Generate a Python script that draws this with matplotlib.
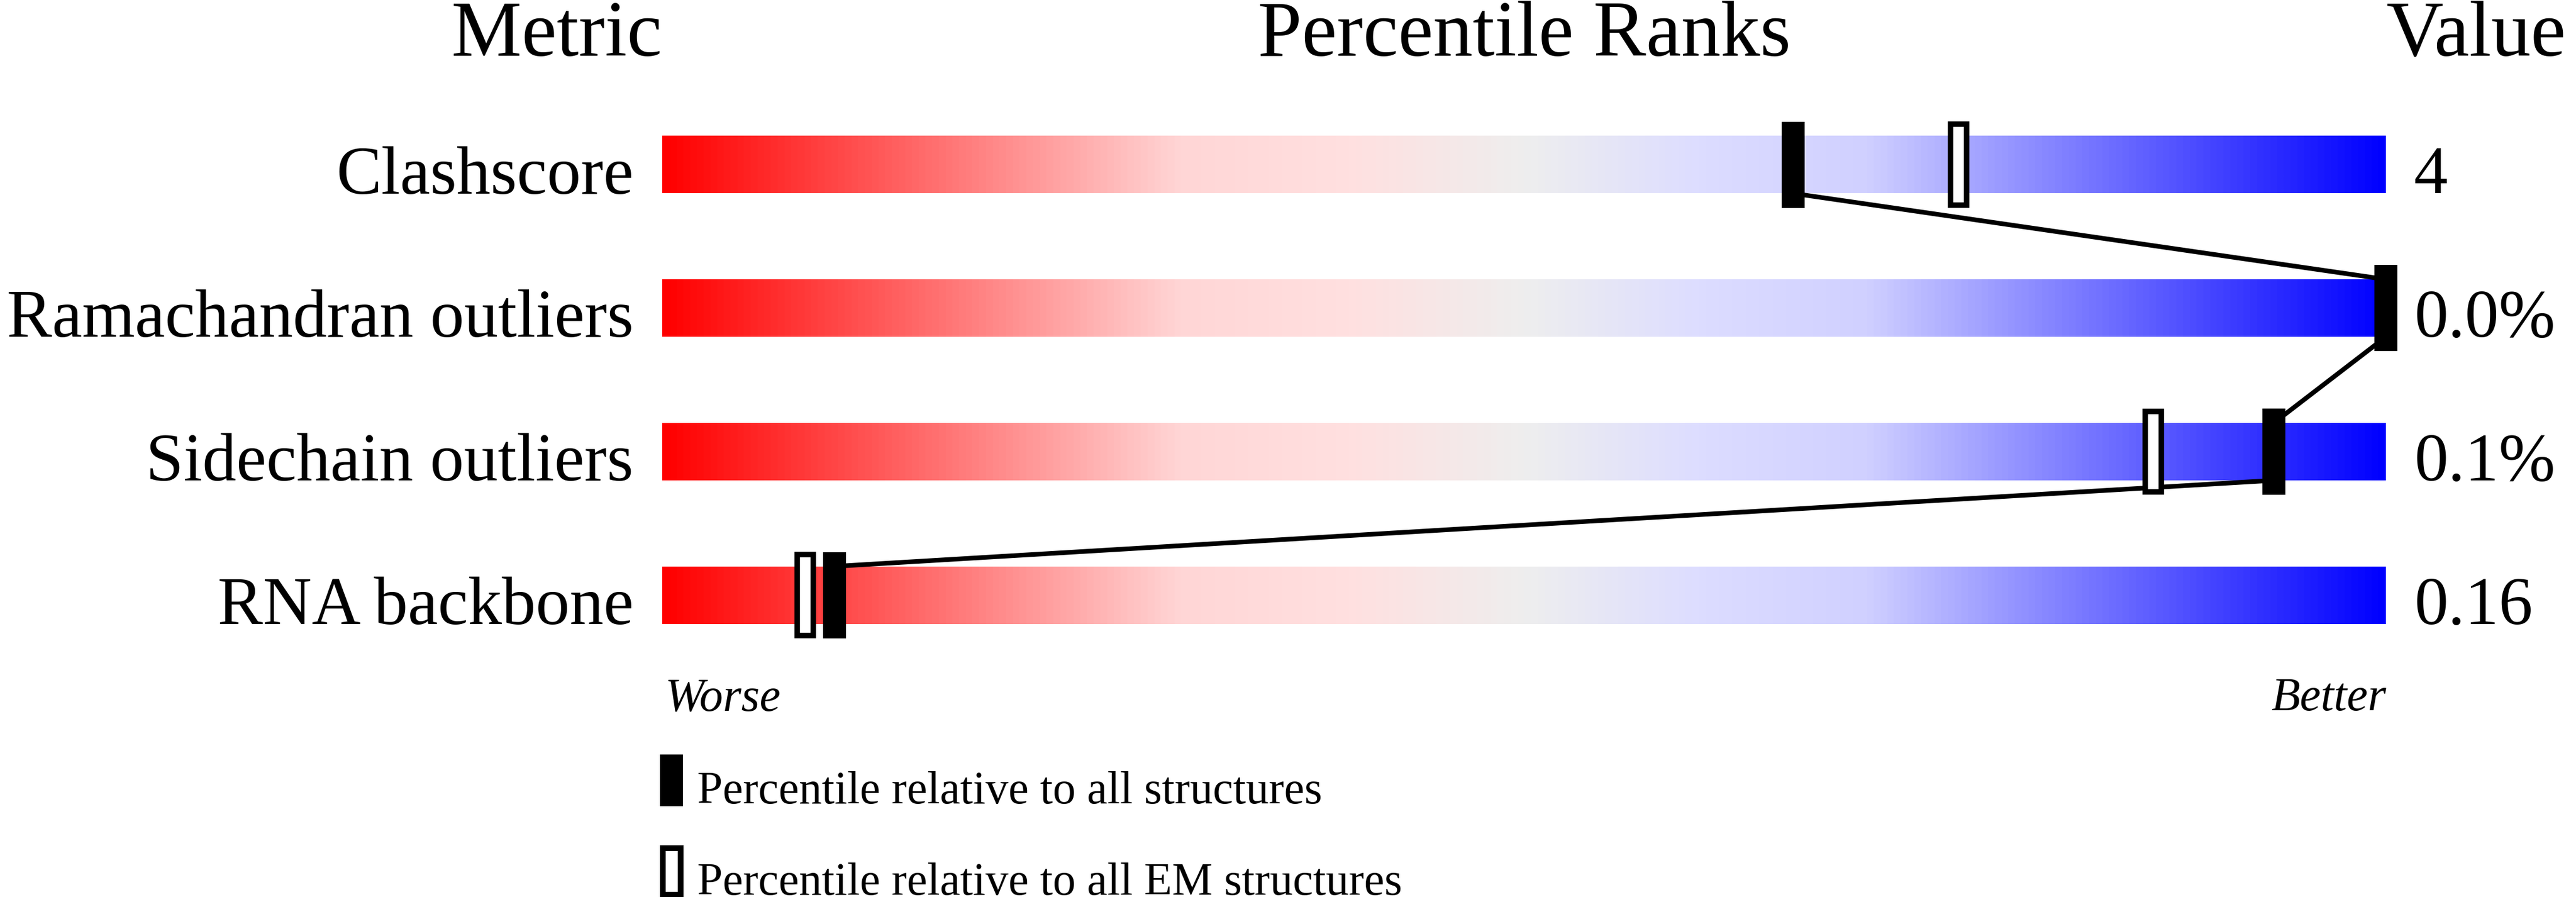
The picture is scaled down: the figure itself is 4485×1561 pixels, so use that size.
#!/usr/bin/env python3
"""Percentile slider chart (validation summary style)."""

import matplotlib

matplotlib.use("Agg")
import matplotlib.pyplot as plt
import numpy as np
from matplotlib.colors import LinearSegmentedColormap
from matplotlib.patches import Rectangle

# data
metrics = ["Clashscore", "Ramachandran outliers", "Sidechain outliers", "RNA backbone"]
values = ["4", "0.0%", "0.1%", "0.16"]
pct_all = [65.6, 100.0, 93.5, 10.0]
pct_em = [75.2, np.nan, 86.5, 8.3]

# layout in output pixels
W, H = 4485, 1561
BAR_LEFT, BAR_RIGHT = 1153, 4154
ROW_TOP, ROW_STEP = 286.5, 249.7
PX_PER_PCT = (BAR_RIGHT - BAR_LEFT) / 100.0
FONT = "Liberation Serif"


def xd(px: float) -> float:
    return (px - BAR_LEFT) / PX_PER_PCT


def yd(px: float) -> float:
    return (px - ROW_TOP) / ROW_STEP


fig = plt.figure(figsize=(W / 100, H / 100), dpi=100)
ax = fig.add_axes([0, 0, 1, 1])

cmap = LinearSegmentedColormap.from_list(
    "slider",
    [
        (0.0, "#ff0000"),
        (0.3, "#ffd6d6"),
        (0.4, "#ffe0e0"),
        (0.5, "#eeeeee"),
        (0.6, "#ddddff"),
        (0.7, "#d0d0ff"),
        (1.0, "#0000ff"),
    ],
)
ramp = np.linspace(0, 1, 800).reshape(1, -1)

bar_h = 100 / ROW_STEP
mark_h = 150 / ROW_STEP
rows = np.arange(len(metrics))

for i in rows:
    ax.imshow(
        ramp,
        cmap=cmap,
        aspect="auto",
        extent=(0, 100, i + bar_h / 2, i - bar_h / 2),
        interpolation="bilinear",
        zorder=1,
    )

# line joining the all-structure markers
for i in rows[:-1]:
    ax.plot(
        [pct_all[i], pct_all[i + 1]],
        [i + bar_h / 2, i + 1 - bar_h / 2],
        color="black",
        linewidth=5.8,
        solid_capstyle="butt",
        zorder=2,
    )

em = np.array(pct_em)
ok = ~np.isnan(em)
edge_px = 9.5
ax.bar(
    em[ok],
    (150 - edge_px) / ROW_STEP,
    width=(38 - edge_px) / PX_PER_PCT,
    bottom=rows[ok] - (150 - edge_px) / ROW_STEP / 2,
    facecolor="white",
    edgecolor="black",
    linewidth=edge_px * 0.72,
    zorder=3,
)
ax.bar(
    pct_all,
    mark_h,
    width=40 / PX_PER_PCT,
    bottom=rows - mark_h / 2,
    color="black",
    linewidth=0,
    zorder=4,
)

# headers
head_y = yd(97)
ax.text(0, head_y, "Metric", ha="right", va="baseline", fontsize=99, family=FONT)
ax.text(50, head_y, "Percentile Ranks", ha="center", va="baseline", fontsize=99, family=FONT)
ax.text(100, head_y, "Value", ha="left", va="baseline", fontsize=99, family=FONT)

for i in rows:
    ax.text(xd(1103), i + bar_h / 2, metrics[i], ha="right", va="baseline",
            fontsize=85, family=FONT)
    ax.text(xd(4203), i + bar_h / 2, values[i], ha="left", va="baseline",
            fontsize=85, family=FONT)

ax.text(xd(1158), yd(1237), "Worse", ha="left", va="baseline", fontsize=59,
        style="italic", family=FONT)
ax.text(100, yd(1236), "Better", ha="right", va="baseline", fontsize=59,
        style="italic", family=FONT)

# legend
ax.add_patch(Rectangle((xd(1149), yd(1313)), 40 / PX_PER_PCT, 90 / ROW_STEP,
                       facecolor="black", linewidth=0, zorder=4))
ax.add_patch(Rectangle((xd(1153.5), yd(1476)), 31 / PX_PER_PCT, 81 / ROW_STEP,
                       facecolor="white", edgecolor="black", linewidth=10 * 0.72, zorder=4))
ax.text(xd(1214), yd(1398), "Percentile relative to all structures", ha="left",
        va="baseline", fontsize=57.3, family=FONT)
ax.text(xd(1214), yd(1557), "Percentile relative to all EM structures", ha="left",
        va="baseline", fontsize=57.3, family=FONT)

ax.set_xlim(xd(0), xd(W))
ax.set_ylim(yd(H), yd(0))
ax.axis("off")

fig.savefig("out.png", dpi=100)
